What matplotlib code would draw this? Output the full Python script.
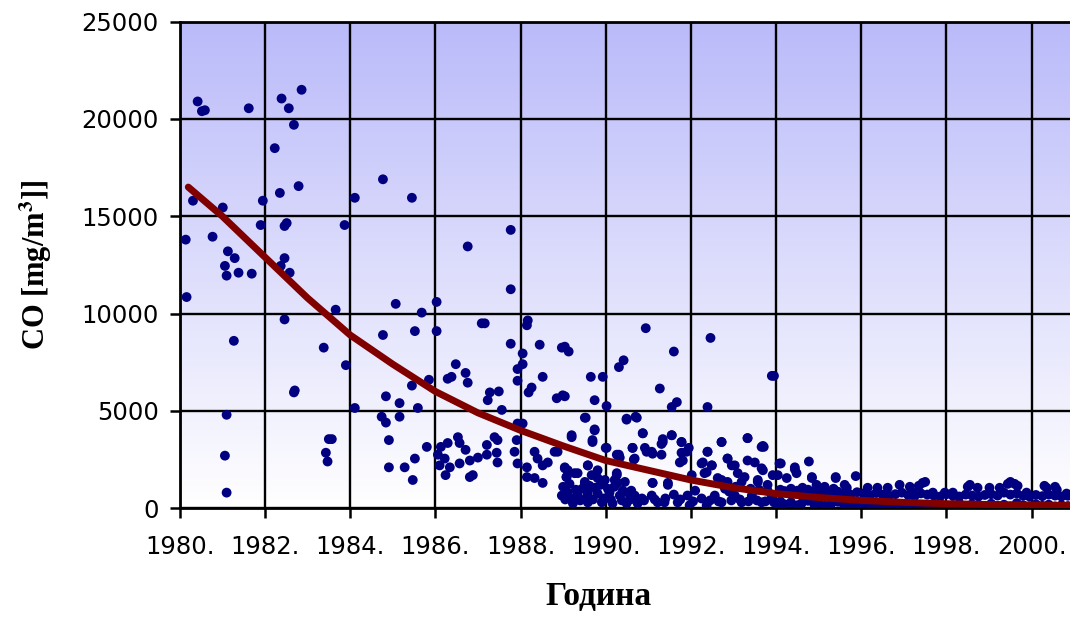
import numpy as np
import matplotlib
matplotlib.use('Agg')
import matplotlib.pyplot as plt

plt.rcParams['mathtext.fontset'] = 'stix'

# --- data (year, CO in mg/m3) ---
yr_early = [1980.14, 1980.16, 1980.31, 1980.42, 1980.52, 1980.59, 1980.77, 1981.01, 1981.13, 1981.29,
            1981.06, 1981.10, 1981.38, 1981.69, 1981.62, 1981.27, 1981.10, 1981.06, 1981.10, 1981.95,
            1981.90, 1982.39, 1982.86, 1982.56, 1982.68, 1982.23, 1982.79, 1982.35, 1982.51, 1982.46,
            1982.46, 1982.37, 1982.58, 1982.46, 1982.68, 1982.70, 1984.11, 1983.87, 1983.66, 1983.38,
            1983.90, 1984.11, 1983.50, 1983.57, 1983.43, 1983.47]
co_early = [13800, 10850, 15800, 20900, 20400, 20450, 13950, 15450, 13200, 12850,
            12450, 11950, 12100, 12050, 20550, 8600, 4800, 2700, 800, 15800,
            14550, 21050, 21500, 20550, 19700, 18500, 16550, 16200, 14650, 14500,
            12850, 12450, 12100, 9700, 5950, 6050, 15950, 14550, 10200, 8250,
            7350, 5150, 3550, 3550, 2850, 2400]

yr_mid = [1984.77, 1985.45, 1987.77, 1986.76, 1987.77, 1985.07, 1985.68, 1986.03, 1987.09, 1987.16,
          1988.15, 1988.17, 1984.77, 1985.52, 1986.03, 1987.77, 1988.45, 1988.97, 1988.05, 1988.05,
          1987.93, 1986.48, 1986.71, 1986.76, 1986.29, 1986.38, 1985.45, 1987.93, 1988.26, 1988.19,
          1988.52, 1987.28, 1987.49, 1987.23, 1987.56, 1988.85, 1988.99, 1984.84, 1985.16, 1985.59,
          1985.85, 1984.74, 1984.84, 1985.16, 1984.91, 1984.91, 1985.28, 1985.47, 1985.52, 1985.80,
          1986.13, 1986.29, 1986.53, 1986.57, 1986.06, 1986.22, 1986.71, 1986.10, 1986.34, 1986.24,
          1986.57, 1986.81, 1987.00, 1987.21, 1987.39, 1987.46, 1987.21, 1987.44, 1987.46, 1986.88,
          1986.81, 1987.91, 1987.93, 1988.05, 1987.86, 1987.93, 1988.15, 1988.33, 1988.40, 1988.52,
          1988.15, 1988.33, 1988.52, 1988.80, 1988.64, 1989.04, 1989.08, 1989.04]
co_mid = [16900, 15950, 14300, 13450, 11250, 10500, 10050, 10600, 9500, 9500,
          9400, 9650, 8900, 9100, 9100, 8450, 8400, 8250, 7950, 7400,
          7150, 7400, 6950, 6450, 6650, 6750, 6300, 6550, 6200, 5950,
          6750, 5950, 6000, 5550, 5050, 5650, 5800, 5750, 5400, 5150,
          6600, 4700, 4400, 4700, 3500, 2100, 2100, 1450, 2550, 3150,
          3150, 3350, 3650, 3350, 2750, 2550, 3000, 2200, 2100, 1700,
          2300, 2450, 2600, 3250, 3650, 3500, 2750, 2850, 2350, 1700,
          1600, 3500, 4350, 4350, 2900, 2300, 2100, 2900, 2550, 2200,
          1600, 1550, 1300, 2900, 2350, 2100, 1600, 650]

yr_upper90 = [1990.94, 1992.46, 1991.60, 1989.13, 1989.04, 1990.42, 1990.31, 1989.65, 1989.93, 1991.27,
              1989.04, 1989.74, 1990.02, 1991.55, 1991.67, 1992.39, 1989.53, 1990.49, 1990.70, 1989.74,
              1989.20, 1990.87, 1991.55, 1991.34, 1989.69, 1993.33, 1992.72, 1993.66, 1990.00, 1990.63,
              1991.31, 1991.78, 1991.95, 1992.39, 1990.96, 1991.78, 1990.31, 1991.10, 1990.66, 1992.86,
              1993.33, 1992.25, 1991.74, 1992.49, 1992.96, 1993.10, 1992.32, 1992.02, 1993.26, 1993.57,
              1992.72, 1991.10, 1991.46, 1990.26, 1990.21, 1989.58, 1989.34, 1989.11, 1989.81, 1989.51,
              1989.98, 1993.90, 1993.95]
co_upper90 = [9250, 8750, 8050, 8050, 8300, 7600, 7250, 6750, 6750, 6150,
              5750, 5550, 5250, 5200, 5450, 5200, 4650, 4600, 4700, 4050,
              3750, 3850, 3750, 3550, 3400, 3600, 3400, 3150, 3100, 3100,
              3300, 3400, 3100, 2900, 2900, 2850, 2750, 2800, 2500, 2550,
              2450, 2300, 2350, 2200, 2200, 1800, 1800, 1700, 1600, 1450,
              1450, 1300, 1300, 1800, 1450, 2200, 1800, 1950, 1950, 1300,
              1450, 6800, 6800]

yr_low90 = [1989.04, 1989.08, 1989.27, 1989.51, 1989.58, 1989.67, 1989.81, 1989.11, 1988.97, 1989.34,
            1989.58, 1989.81, 1989.23, 1989.58, 1989.91, 1990.26, 1990.28, 1990.45, 1990.09, 1990.33,
            1990.16, 1990.52, 1990.68, 1990.85, 1990.49, 1990.75, 1991.08, 1991.10, 1991.22, 1991.46,
            1991.38, 1991.69, 1991.92, 1991.97, 1992.25, 1992.37, 1992.56, 1992.72, 1993.03, 1993.19,
            1993.43, 1993.66, 1993.90, 1994.04, 1992.63, 1992.86, 1993.19, 1993.57, 1993.80, 1994.04,
            1993.66, 1993.50, 1993.03, 1992.37, 1992.28, 1992.49, 1992.86, 1992.39, 1992.72, 1993.33,
            1993.69, 1994.08, 1991.81, 1991.90, 1991.78, 1991.55, 1991.34, 1991.31, 1991.08, 1990.92,
            1990.68, 1990.63, 1990.87, 1990.26, 1990.33, 1990.02, 1989.74, 1989.69, 1989.20, 1989.51,
            1990.49, 1990.73, 1988.87, 1990.60, 1991.60, 1992.10, 1992.90, 1993.40, 1993.80]
co_low90 = [2050, 1600, 1800, 1350, 2200, 1700, 1550, 800, 650, 650,
            800, 750, 250, 300, 300, 1700, 1300, 1350, 800, 650,
            250, 800, 650, 500, 250, 250, 650, 1300, 300, 1200,
            300, 300, 650, 150, 500, 150, 650, 300, 650, 300,
            650, 300, 650, 150, 1550, 1350, 1350, 1350, 1200, 1700,
            2050, 2350, 2200, 1850, 2350, 2200, 2550, 2900, 3400, 3600,
            3200, 2300, 2450, 2900, 3400, 3750, 3400, 2750, 2900, 3100,
            2550, 3100, 3850, 2750, 2600, 3100, 4000, 3500, 3650, 4650,
            4550, 4650, 2900, 900, 700, 900, 850, 1000, 900]

# extra points in the densest low blobs (1989-1994)
yr_dense = [1989.00, 1989.15, 1989.30, 1989.45, 1989.62, 1989.75, 1989.88, 1990.05, 1990.20, 1990.40,
            1989.05, 1989.20, 1989.40, 1989.55, 1989.70, 1989.95, 1990.12, 1990.38, 1990.58, 1990.90,
            1991.15, 1991.40, 1991.75, 1992.05, 1992.45, 1992.65, 1992.95, 1993.15, 1993.35, 1993.55,
            1993.75, 1993.95, 1992.80, 1993.05, 1993.45, 1993.60]
co_dense = [1100, 1250, 950, 1000, 1150, 1050, 1200, 1000, 1100, 900,
            450, 500, 400, 550, 450, 500, 450, 400, 450, 400,
            450, 500, 450, 350, 400, 350, 400, 450, 350, 400,
            350, 300, 1000, 1100, 850, 950]

yr_late = [1993.71, 1994.11, 1994.77, 1994.44, 1995.40, 1995.87, 1993.69, 1993.92, 1994.25, 1994.48,
           1994.84, 1994.95, 1995.14, 1995.61, 1995.66, 1994.62, 1996.15, 1996.38, 1996.62, 1996.90,
           1997.14, 1997.44, 1997.21, 1997.68, 1997.96, 1998.15, 1998.50, 1998.73, 1999.01, 1999.25,
           1999.44, 1999.67, 1999.88, 2000.35, 2000.59, 2000.82, 1994.44, 1995.40, 1994.84, 1995.35,
           1997.50, 1997.35, 1998.55, 1999.50, 1999.60, 2000.30, 2000.55]
co_late = [3150, 2300, 2400, 2100, 1600, 1650, 1950, 1700, 1550, 1800,
           1600, 1200, 1100, 1200, 1050, 1050, 1050, 1050, 1050, 1200,
           1100, 1300, 800, 800, 800, 800, 1100, 1050, 1050, 1050,
           1250, 1150, 800, 1050, 950, 750, 2000, 1550, 1550, 1000,
           1350, 1150, 1200, 1350, 1250, 1150, 1100]

yr_band = [1994.10, 1994.20, 1994.35, 1994.50, 1994.60, 1994.75, 1994.90, 1995.00, 1995.15, 1995.30,
           1995.45, 1995.60, 1995.75, 1995.90, 1996.05, 1996.20, 1996.35, 1996.50, 1996.65, 1996.80,
           1996.95, 1997.10, 1997.25, 1997.40, 1997.55, 1997.70, 1997.85, 1998.00, 1998.15, 1998.30,
           1998.45, 1998.60, 1998.75, 1998.90, 1999.05, 1999.20, 1999.35, 1999.50, 1999.65, 1999.80,
           1999.95, 2000.10, 2000.25, 2000.40, 2000.55, 2000.70, 2000.85]
co_band_hi = [950, 880, 1000, 900, 820, 950, 870, 800, 900, 760,
              850, 780, 700, 820, 760, 650, 780, 700, 640, 720,
              800, 680, 620, 760, 700, 650, 600, 720, 640, 600,
              700, 650, 600, 680, 720, 650, 800, 700, 760, 640,
              600, 680, 620, 700, 650, 600, 640]
co_band_lo = [350, 200, 300, 150, 250, 380, 180, 300, 120, 250,
              330, 150, 220, 100, 280, 180, 120, 250, 150, 90,
              200, 130, 260, 100, 180, 120, 220, 90, 160, 250,
              110, 200, 140, 80, 230, 120, 180, 90, 260, 150,
              100, 200, 120, 180, 90, 150, 110]

# exponential-looking trend (dark red line)
yr_trend = [1980.2, 1981, 1982, 1983, 1984, 1985, 1986, 1987, 1988, 1989, 1990,
            1991, 1992, 1993, 1994, 1995, 1996, 1997, 1998, 1999, 2000, 2001]
co_trend = [16500, 15000, 12900, 10800, 8900, 7400, 6000, 4900, 4000, 3200, 2450,
            1950, 1450, 1050, 750, 550, 400, 300, 230, 190, 160, 140]

xticks = [1980, 1982, 1984, 1986, 1988, 1990, 1992, 1994, 1996, 1998, 2000]
yticks = [0, 5000, 10000, 15000, 20000, 25000]

years = np.concatenate([yr_early, yr_mid, yr_upper90, yr_low90, yr_dense, yr_late, yr_band, yr_band])
co = np.concatenate([co_early, co_mid, co_upper90, co_low90, co_dense, co_late, co_band_hi, co_band_lo])

fig = plt.figure(figsize=(10.70, 6.19), dpi=100)
ax = fig.add_axes([0.168, 0.179, 0.832, 0.786])

# background gradient: lavender at top fading to white
top = np.array([0.73, 0.73, 0.98])
grad = np.linspace(0, 1, 256)[:, None, None]
img = top + (1 - top) * grad
img = np.repeat(img, 2, axis=1)
ax.imshow(img, extent=[0, 1, 0, 1], transform=ax.transAxes, aspect='auto',
          origin='upper', zorder=0)

ax.scatter(years, co, s=50, color='#000080', edgecolors='none', zorder=3)
ax.plot(yr_trend, co_trend, color='#800000', linewidth=5, solid_capstyle='round', zorder=4)

ax.set_xlim(1980, 2000.9)
ax.set_ylim(0, 25000)
ax.set_xticks(xticks)
ax.set_xticklabels(['%d.' % x for x in xticks])
ax.set_yticks(yticks)
ax.set_yticklabels([str(y) for y in yticks])

ax.grid(True, color='black', linewidth=1.7, zorder=1)
ax.set_axisbelow(True)
for side in ['left', 'bottom', 'top']:
    ax.spines[side].set_linewidth(2.0)
    ax.spines[side].set_color('black')
ax.spines['right'].set_visible(False)

ax.tick_params(axis='both', direction='out', length=7, width=1.8, color='black',
               labelsize=17.5, labelcolor='black')
ax.tick_params(axis='y', pad=8)
ax.tick_params(axis='x', pad=12)

ax.set_ylabel(r'CO [mg/m$^\mathbf{3}$]]', family='Liberation Serif', fontweight='bold',
              fontsize=22, labelpad=20)
fig.text(0.559, 0.036, 'Година', family='Liberation Serif', fontweight='bold',
         fontsize=24, ha='center', va='center')

fig.savefig('out.png', dpi=100)
